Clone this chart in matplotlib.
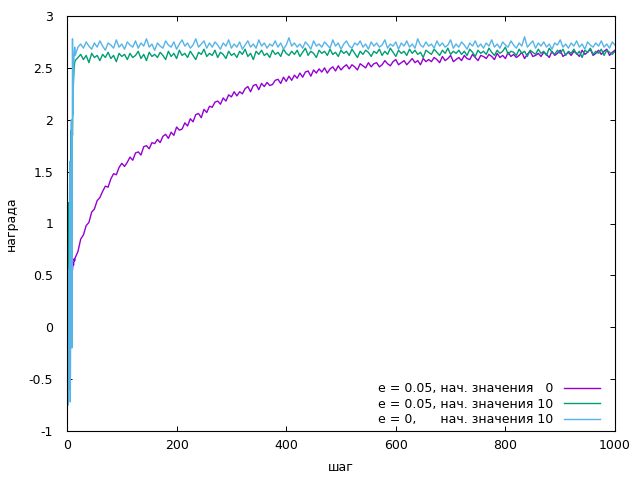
import matplotlib
matplotlib.use("Agg")
import matplotlib.pyplot as plt

# =====================================================================
# ДАННЫЕ (средняя награда по шагам)
# =====================================================================
# шаги: первые 14 подряд, дальше через 5
shagi = list(range(1, 15)) + list(range(15, 1001, 5))

# e = 0.05, начальные значения 0
nagrada_e005_nach0 = [
    0.45, 0.30, 0.50, 0.40, 0.55, 0.48, 0.60, 0.52, 0.58, 0.55, 0.62, 0.60, 0.66, 0.64,
    0.67, 0.73, 0.85, 0.89, 0.98, 1.01, 1.11, 1.14, 1.22, 1.25,
    1.31, 1.36, 1.35, 1.43, 1.48, 1.47, 1.54, 1.58, 1.55, 1.59,
    1.64, 1.61, 1.68, 1.69, 1.66, 1.74, 1.75, 1.72, 1.78, 1.77,
    1.81, 1.78, 1.84, 1.86, 1.82, 1.88, 1.85, 1.93, 1.90, 1.91,
    1.97, 1.94, 2.01, 1.98, 2.05, 2.06, 2.02, 2.10, 2.07, 2.13,
    2.12, 2.17, 2.18, 2.15, 2.21, 2.18, 2.24, 2.22, 2.27, 2.23,
    2.27, 2.25, 2.30, 2.32, 2.27, 2.33, 2.34, 2.29, 2.35, 2.32,
    2.36, 2.33, 2.34, 2.38, 2.39, 2.35, 2.41, 2.37, 2.42, 2.38,
    2.43, 2.40, 2.45, 2.41, 2.46, 2.47, 2.42, 2.48, 2.45, 2.49,
    2.46, 2.50, 2.45, 2.49, 2.51, 2.47, 2.52, 2.48, 2.51, 2.53,
    2.49, 2.53, 2.51, 2.48, 2.54, 2.52, 2.50, 2.55, 2.51, 2.54,
    2.55, 2.51, 2.53, 2.57, 2.54, 2.52, 2.56, 2.58, 2.53, 2.55,
    2.57, 2.53, 2.56, 2.59, 2.55, 2.57, 2.53, 2.59, 2.56, 2.58,
    2.56, 2.60, 2.58, 2.55, 2.61, 2.57, 2.59, 2.62, 2.56, 2.58,
    2.60, 2.57, 2.62, 2.59, 2.58, 2.63, 2.60, 2.57, 2.62, 2.61,
    2.59, 2.63, 2.61, 2.58, 2.64, 2.60, 2.62, 2.59, 2.65, 2.61,
    2.63, 2.60, 2.62, 2.65, 2.59, 2.63, 2.66, 2.61, 2.62, 2.64,
    2.61, 2.65, 2.63, 2.60, 2.66, 2.62, 2.64, 2.67, 2.61, 2.63,
    2.65, 2.62, 2.66, 2.64, 2.61, 2.67, 2.63, 2.65, 2.68, 2.62,
    2.64, 2.67, 2.63, 2.66, 2.68, 2.62, 2.65, 2.67,
]

# e = 0.05, начальные значения 10
nagrada_e005_nach10 = [
    0.40, -0.30, 1.20, 0.10, 1.50, 0.80, 1.90, 1.20, 2.00, 1.85, 2.25, 2.40, 2.50, 2.55,
    2.57, 2.60, 2.63, 2.58, 2.62, 2.55, 2.64, 2.60, 2.62, 2.57,
    2.63, 2.60, 2.65, 2.59, 2.62, 2.56, 2.64, 2.61, 2.63, 2.58,
    2.64, 2.60, 2.62, 2.66, 2.59, 2.63, 2.57, 2.65, 2.61, 2.63,
    2.60, 2.65, 2.62, 2.58, 2.66, 2.61, 2.64, 2.59, 2.67, 2.62,
    2.64, 2.60, 2.66, 2.62, 2.58, 2.65, 2.63, 2.68, 2.61, 2.64,
    2.62, 2.67, 2.60, 2.65, 2.63, 2.59, 2.66, 2.62, 2.64, 2.60,
    2.66, 2.63, 2.68, 2.61, 2.64, 2.58, 2.66, 2.63, 2.67, 2.62,
    2.64, 2.60, 2.67, 2.63, 2.65, 2.61, 2.68, 2.64, 2.62, 2.66,
    2.63, 2.67, 2.61, 2.65, 2.69, 2.62, 2.66, 2.64, 2.60, 2.67,
    2.64, 2.66, 2.62, 2.68, 2.63, 2.65, 2.61, 2.67, 2.64, 2.66,
    2.62, 2.68, 2.64, 2.60, 2.66, 2.63, 2.67, 2.65, 2.61, 2.66,
    2.64, 2.68, 2.62, 2.66, 2.63, 2.69, 2.65, 2.61, 2.67, 2.64,
    2.66, 2.62, 2.68, 2.64, 2.67, 2.63, 2.65, 2.60, 2.67, 2.65,
    2.63, 2.68, 2.65, 2.62, 2.67, 2.64, 2.69, 2.63, 2.66, 2.64,
    2.67, 2.63, 2.66, 2.62, 2.68, 2.65, 2.61, 2.67, 2.64, 2.66,
    2.63, 2.69, 2.65, 2.62, 2.67, 2.64, 2.66, 2.70, 2.63, 2.66,
    2.65, 2.62, 2.68, 2.64, 2.66, 2.61, 2.67, 2.65, 2.63, 2.68,
    2.64, 2.66, 2.62, 2.69, 2.65, 2.63, 2.67, 2.64, 2.68, 2.62,
    2.66, 2.64, 2.68, 2.63, 2.66, 2.60, 2.67, 2.65, 2.69, 2.63,
    2.66, 2.64, 2.68, 2.62, 2.67, 2.65, 2.63, 2.66,
]

# e = 0, начальные значения 10
nagrada_e0_nach10 = [
    0.60, -0.75, 0.55, -0.60, 1.60, -0.72, 0.30, 2.00, -0.20, 2.78, 2.05, 2.50, 2.62, 2.70,
    2.62, 2.70, 2.73, 2.69, 2.75, 2.71, 2.68, 2.74, 2.70, 2.76,
    2.71, 2.67, 2.74, 2.72, 2.69, 2.77, 2.70, 2.73, 2.68, 2.75,
    2.72, 2.70, 2.76, 2.69, 2.74, 2.71, 2.78, 2.70, 2.73, 2.67,
    2.74, 2.71, 2.69, 2.76, 2.72, 2.70, 2.75, 2.68, 2.73, 2.77,
    2.71, 2.74, 2.69, 2.72, 2.78, 2.70, 2.73, 2.76, 2.69, 2.74,
    2.70, 2.75, 2.72, 2.68, 2.74, 2.71, 2.77, 2.69, 2.73, 2.70,
    2.75, 2.68, 2.72, 2.76, 2.70, 2.73, 2.69, 2.77, 2.71, 2.74,
    2.69, 2.73, 2.71, 2.76, 2.70, 2.74, 2.68, 2.72, 2.79, 2.71,
    2.74, 2.70, 2.73, 2.69, 2.75, 2.72, 2.68, 2.76, 2.71, 2.73,
    2.70, 2.75, 2.72, 2.69, 2.77, 2.71, 2.74, 2.68, 2.73, 2.76,
    2.71, 2.69, 2.74, 2.72, 2.76, 2.70, 2.73, 2.68, 2.75, 2.71,
    2.74, 2.70, 2.72, 2.77, 2.69, 2.73, 2.71, 2.75, 2.68, 2.74,
    2.71, 2.76, 2.70, 2.73, 2.69, 2.78, 2.72, 2.70, 2.75, 2.71,
    2.73, 2.69, 2.76, 2.71, 2.74, 2.70, 2.72, 2.77, 2.69, 2.73,
    2.70, 2.75, 2.72, 2.68, 2.74, 2.71, 2.76, 2.70, 2.73, 2.69,
    2.74, 2.71, 2.77, 2.70, 2.73, 2.69, 2.75, 2.72, 2.70, 2.76,
    2.72, 2.69, 2.74, 2.71, 2.80, 2.70, 2.73, 2.76, 2.69, 2.74,
    2.71, 2.75, 2.70, 2.73, 2.68, 2.74, 2.72, 2.77, 2.70, 2.73,
    2.69, 2.74, 2.71, 2.76, 2.70, 2.73, 2.68, 2.75, 2.72, 2.70,
    2.74, 2.71, 2.76, 2.70, 2.73, 2.69, 2.75, 2.72,
]

podpisi = [
    "e = 0.05, нач. значения   0",
    "e = 0.05, нач. значения 10",
    "e = 0,      нач. значения 10",
]
cveta = ["#9400d3", "#009e73", "#56b4e9"]

# =====================================================================
# ГРАФИК
# =====================================================================
plt.rcParams["font.family"] = ["DejaVu Sans"]
plt.rcParams["font.size"] = 9

fig = plt.figure(figsize=(6.4, 4.8), dpi=100)
ax = fig.add_axes([67 / 640, 1 - 431 / 480, 548 / 640, 415 / 480])

for y, podpis, cvet in zip(
    [nagrada_e005_nach0, nagrada_e005_nach10, nagrada_e0_nach10], podpisi, cveta
):
    ax.plot(shagi, y, color=cvet, linewidth=1.0, label=podpis)

ax.set_xlim(0, 1000)
ax.set_ylim(-1, 3)
ax.set_xticks(range(0, 1001, 200))
ax.set_yticks([-1, -0.5, 0, 0.5, 1, 1.5, 2, 2.5, 3])
ax.set_yticklabels(["-1", "-0.5", "0", "0.5", "1", "1.5", "2", "2.5", "3"])

ax.tick_params(direction="in", top=True, right=True, length=3.6, width=0.7,
               labelsize=9)
ax.tick_params(axis="y", pad=10)
ax.tick_params(axis="x", pad=6)
for s in ax.spines.values():
    s.set_linewidth(0.8)

ax.set_xlabel("шаг", fontsize=9, labelpad=6)
ax.set_ylabel("награда", fontsize=9, labelpad=7.5)

# легенда справа снизу, как в gnuplot: подпись, потом образец линии
ax.legend(loc="lower right", bbox_to_anchor=(0.9726, 0.012), frameon=False,
          markerfirst=False, fontsize=9, handlelength=2.9, handletextpad=0.8,
          labelspacing=0.2, borderpad=0, borderaxespad=0)

fig.savefig("out.png", dpi=100)
